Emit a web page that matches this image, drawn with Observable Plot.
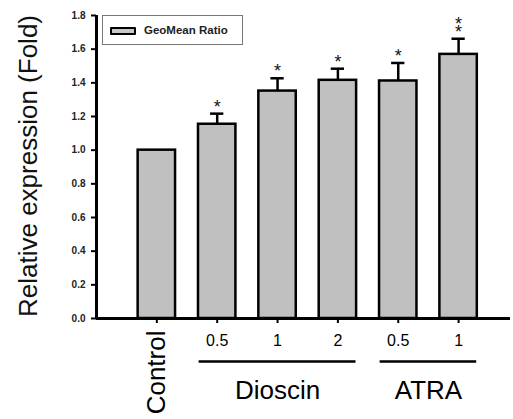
<!DOCTYPE html>
<html><head><meta charset="utf-8">
<script src="https://cdn.jsdelivr.net/npm/d3@7"></script>
<script src="https://cdn.jsdelivr.net/npm/@observablehq/plot@0.6"></script>
<style>
body{margin:0;background:#fff;font-family:"Liberation Sans",Arial,sans-serif}
#wrap{position:relative;width:513px;height:419px}
#wrap svg{display:block}
.legend{position:absolute;left:102px;top:15px;width:141px;height:30px;border:1px solid #777;box-sizing:border-box;background:#fff}
.legend .sw{position:absolute;left:7px;top:11px;width:26px;height:8px;background:#c8c8c8;border:2.5px solid #000;box-sizing:border-box;border-radius:1px}
.legend .lb{position:absolute;left:41px;top:6px;font-size:11.5px;font-weight:bold;color:#222;line-height:16px;white-space:nowrap}
</style></head>
<body><div id="wrap"></div>
<script>
const categories = ["Control","Dioscin 0.5","Dioscin 1","Dioscin 2","ATRA 0.5","ATRA 1"];
const doseLabels = ["Control","0.5","1","2","0.5","1"];
const values = [1.0, 1.154, 1.351, 1.415, 1.411, 1.569];
const errors = [0, 0.063, 0.076, 0.069, 0.107, 0.093];
const stars = ["", "*", "*", "*", "*", "**"];
const groupNames = ["Dioscin", "ATRA"];
const groupFirst = [1, 4];
const groupLast = [3, 5];
const yTicks = [0, 0.2, 0.4, 0.6, 0.8, 1.0, 1.2, 1.4, 1.6, 1.8];
const legendLabel = "GeoMean Ratio";
const yLabel = "Relative expression (Fold)";

const half = 0.31, capHalf = 0.11, groupPad = 0.3;
const data = categories.map((c, i) => ({
  cat: c, pos: i + 1, dose: doseLabels[i], value: values[i], err: errors[i],
  upper: values[i] + errors[i], star: stars[i].split("").join("\n")
}));
const treated = data.filter(d => d.err > 0);
const groups = groupNames.map((g, k) => ({
  name: g,
  x1: data[groupFirst[k]].pos - groupPad,
  x2: data[groupLast[k]].pos + groupPad,
  mid: (data[groupFirst[k]].pos + data[groupLast[k]].pos) / 2
}));
const font = "Liberation Sans, Arial, sans-serif";

const chart = Plot.plot({
  width: 513, height: 419,
  marginTop: 15, marginBottom: 101, marginLeft: 96, marginRight: 3,
  style: {fontFamily: font, background: "#fff", overflow: "visible"},
  x: {type: "linear", domain: [0, 6.86]},
  y: {domain: [0, 1.8]},
  marks: [
    Plot.rectY(data, {x1: d => d.pos - half, x2: d => d.pos + half, y1: 0, y2: "value", fill: "#c0c0c0", stroke: "#000", strokeWidth: 2.5}),
    Plot.ruleX(treated, {x: "pos", y1: "value", y2: "upper", stroke: "#000", strokeWidth: 2.5}),
    Plot.ruleY(treated, {y: "upper", x1: d => d.pos - capHalf, x2: d => d.pos + capHalf, stroke: "#000", strokeWidth: 2.5}),
    Plot.text(treated, {x: "pos", y: "upper", text: "star", lineAnchor: "bottom", lineHeight: 0.45, dy: -1, fontSize: 18, fill: "#111"}),
    Plot.ruleX([0], {y1: 0, y2: 1.8, stroke: "#000", strokeWidth: 3}),
    Plot.ruleY([0], {stroke: "#000", strokeWidth: 3}),
    Plot.axisY({ticks: yTicks, tickFormat: d3.format(".1f"), tickSize: 5, tickPadding: 6, fontSize: 10, fontWeight: "bold", strokeWidth: 2, stroke: "#000", fill: "#222", label: null}),
    Plot.axisX({ticks: data.map(d => d.pos), tickFormat: () => "", tickSize: 5, strokeWidth: 2, label: null}),
    Plot.text(data.filter(d => d.pos > 1), {x: "pos", y: 0, text: "dose", dy: 27, lineAnchor: "bottom", fontSize: 16, fill: "#000"}),
    Plot.text(data.filter(d => d.pos === 1), {x: "pos", y: 0, text: "dose", rotate: -90, textAnchor: "end", lineAnchor: "bottom", dx: 8, dy: 12, fontSize: 26, fill: "#000"}),
    Plot.ruleY(groups, {x1: "x1", x2: "x2", y: 0, dy: 43, stroke: "#000", strokeWidth: 2.5}),
    Plot.text(groups, {x: "mid", y: 0, text: "name", dy: 80, lineAnchor: "bottom", fontSize: 26, fill: "#000"}),
    Plot.text([yLabel], {frameAnchor: "left", textAnchor: "middle", lineAnchor: "middle", rotate: -90, dx: -68, dy: -1, fontSize: 26, fill: "#111"})
  ]
});
const wrap = document.getElementById("wrap");
wrap.appendChild(chart);
const lg = document.createElement("div");
lg.className = "legend";
lg.innerHTML = '<div class="sw"></div><div class="lb"></div>';
lg.querySelector(".lb").textContent = legendLabel;
wrap.appendChild(lg);
</script>
</body></html>
